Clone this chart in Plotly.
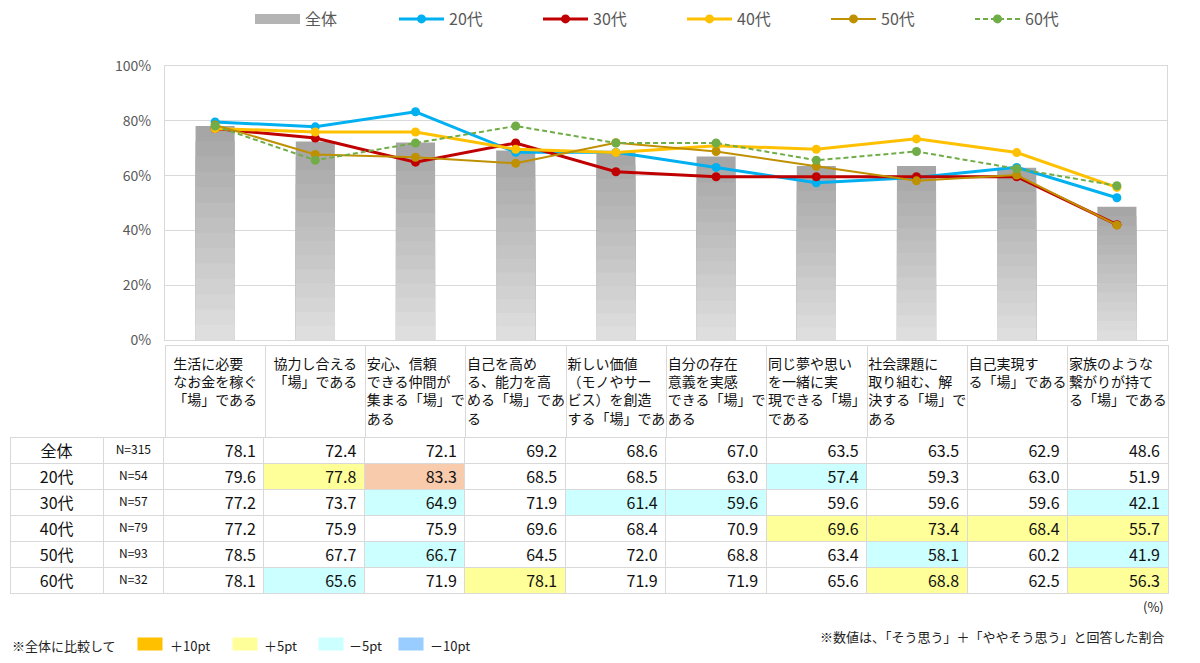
import plotly.graph_objects as go

# ---------------- data ----------------
categories = [
    "生活に必要<br>なお金を稼ぐ<br>「場」である",
    "協力し合える<br>「場」である",
    "安心、信頼<br>できる仲間が<br>集まる「場」で<br>ある",
    "自己を高め<br>る、能力を高<br>める「場」であ<br>る",
    "新しい価値<br>（モノやサー<br>ビス）を創造<br>する「場」であ",
    "自分の存在<br>意義を実感<br>できる「場」で<br>ある",
    "同じ夢や思い<br>を一緒に実<br>現できる「場」<br>である",
    "社会課題に<br>取り組む、解<br>決する「場」で<br>ある",
    "自己実現す<br>る「場」である",
    "家族のような<br>繋がりが持て<br>る「場」である",
]
overall = [78.1, 72.4, 72.1, 69.2, 68.6, 67.0, 63.5, 63.5, 62.9, 48.6]
age20 = [79.6, 77.8, 83.3, 68.5, 68.5, 63.0, 57.4, 59.3, 63.0, 51.9]
age30 = [77.2, 73.7, 64.9, 71.9, 61.4, 59.6, 59.6, 59.6, 59.6, 42.1]
age40 = [77.2, 75.9, 75.9, 69.6, 68.4, 70.9, 69.6, 73.4, 68.4, 55.7]
age50 = [78.5, 67.7, 66.7, 64.5, 72.0, 68.8, 63.4, 58.1, 60.2, 41.9]
age60 = [78.1, 65.6, 71.9, 78.1, 71.9, 71.9, 65.6, 68.8, 62.5, 56.3]

group_names = ["全体", "20代", "30代", "40代", "50代", "60代"]
group_n = ["N=315", "N=54", "N=57", "N=79", "N=93", "N=32"]
y_ticks = [0, 20, 40, 60, 80, 100]
y_tick_text = ["0%", "20%", "40%", "60%", "80%", "100%"]

line_series = [
    ("20代", age20, "#00B0F0", 3, "solid", 9),
    ("30代", age30, "#C00000", 3, "solid", 9),
    ("40代", age40, "#FFC000", 3, "solid", 9),
    ("50代", age50, "#BF9000", 2, "solid", 9),
    ("60代", age60, "#70AD47", 2, "5px,3px", 9),
]

FONT = "Noto Sans CJK JP"
W, H = 1200, 663


def px(x):
    return x / W


def py(y):
    return 1 - y / H


x_idx = list(range(len(overall)))
fig = go.Figure()

# gradient bars (layered, dark on top -> light at bottom)
n_layers = 14
dark = (166, 166, 166)
light = (222, 222, 222)
for k in range(n_layers):
    t = k / (n_layers - 1)
    c = tuple(round(dark[i] + (light[i] - dark[i]) * t) for i in range(3))
    frac = (n_layers - k) / n_layers
    fig.add_trace(go.Bar(
        x=x_idx, y=[v * frac for v in overall], width=0.39,
        marker=dict(color="rgb(%d,%d,%d)" % c, line=dict(width=0)),
        name="全体", showlegend=False, hoverinfo="skip",
    ))
# legend entry for the bar series
fig.add_trace(go.Scatter(x=[None], y=[None], mode="lines", name="全体",
                         line=dict(color="#B4B4B4", width=10)))

for name, vals, color, lw, dash, ms in line_series:
    fig.add_trace(go.Scatter(
        x=x_idx, y=vals, name=name, mode="lines+markers",
        line=dict(color=color, width=lw, dash=dash),
        marker=dict(color=color, size=ms, symbol="circle"),
    ))

# ---------------- table ----------------
rows = [overall, age20, age30, age40, age50, age60]


def cell_color(v, base):
    d = v - base
    if d >= 10:
        return "#F8CBAD"
    if d >= 5:
        return "#FFFF99"
    if d <= -10:
        return "#99CCFF"
    if d <= -5:
        return "#CCFFFF"
    return "white"


num_cols = []
fill_cols = []
for j in range(len(overall)):
    num_cols.append(["%.1f" % rows[i][j] for i in range(1, len(rows))])
    fill_cols.append([cell_color(rows[i][j], overall[j]) for i in range(1, len(rows))])

col_w = [93, 60] + [100.2] * len(overall)

# header table (category labels)
fig.add_trace(go.Table(
    domain=dict(x=[px(165), px(1168)], y=[py(470), py(345)]),
    columnwidth=[100.2] * len(overall),
    header=dict(values=categories, height=92, align="center",
                fill=dict(color="white"), line=dict(color="#D9D9D9", width=1),
                font=dict(family=FONT, size=14, color="#111111")),
    cells=dict(values=[[""] for _ in categories], height=20,
               fill=dict(color="white"), line=dict(color="white", width=1)),
))

# data table (全体 row used as table header)
header_vals = [group_names[0], group_n[0]] + ["%.1f" % v for v in overall]
fig.add_trace(go.Table(
    domain=dict(x=[px(10), px(1168)], y=[0, py(437)]),
    columnwidth=col_w,
    header=dict(values=header_vals, height=26,
                align=["center", "center"] + ["right"] * len(overall),
                fill=dict(color="white"), line=dict(color="#D9D9D9", width=1),
                font=dict(family=FONT, size=[16, 12] + [16] * len(overall), color="#111111")),
    cells=dict(values=[group_names[1:], group_n[1:]] + num_cols, height=26,
               align=["center", "center"] + ["right"] * len(overall),
               fill=dict(color=[["white"] * 5, ["white"] * 5] + fill_cols),
               line=dict(color="#D9D9D9", width=1),
               font=dict(family=FONT, size=[16, 12] + [16] * len(overall), color="#111111")),
))

# ---------------- annotations ----------------
ann = []
ann.append(dict(text="(%)", x=px(1166), y=py(606), xref="paper", yref="paper",
                xanchor="right", yanchor="middle", showarrow=False,
                font=dict(family=FONT, size=13, color="#222222")))
ann.append(dict(text="※数値は、「そう思う」＋「ややそう思う」と回答した割合", x=px(1167), y=py(636),
                xref="paper", yref="paper", xanchor="right", yanchor="middle", showarrow=False,
                font=dict(family=FONT, size=13, color="#222222")))
ann.append(dict(text="※全体に比較して", x=px(10), y=py(645), xref="paper", yref="paper",
                xanchor="left", yanchor="middle", showarrow=False,
                font=dict(family=FONT, size=13, color="#222222")))
legend2 = [("#FFC000", "＋10pt", 137, 168), ("#FFFF99", "＋5pt", 232, 262),
           ("#CCFFFF", "－5pt", 318, 347), ("#99CCFF", "－10pt", 398, 428)]
for col, lab, sx, tx in legend2:
    ann.append(dict(text=" ", x=px(sx), y=py(644), xref="paper", yref="paper",
                    xanchor="left", yanchor="middle", showarrow=False, width=24, height=12,
                    bgcolor=col, borderpad=0))
    ann.append(dict(text=lab, x=px(tx), y=py(645), xref="paper", yref="paper",
                    xanchor="left", yanchor="middle", showarrow=False,
                    font=dict(family=FONT, size=13, color="#222222")))

fig.update_layout(
    width=W, height=H,
    margin=dict(l=0, r=0, t=0, b=0),
    paper_bgcolor="white", plot_bgcolor="white",
    barmode="overlay",
    font=dict(family=FONT, color="#595959"),
    xaxis=dict(domain=[px(165), px(1167)], range=[-0.5, len(overall) - 0.5],
               showticklabels=False, showgrid=False, zeroline=False, automargin=False,
               showline=True, mirror=True, linecolor="#D9D9D9", linewidth=1, ticks=""),
    yaxis=dict(domain=[py(340), py(66)], range=[0, 100], tickvals=y_ticks,
               ticktext=y_tick_text, automargin=False,
               showgrid=True, gridcolor="#D9D9D9", gridwidth=1,
               zeroline=False, showline=True, mirror=True, linecolor="#D9D9D9",
               tickfont=dict(family=FONT, size=14, color="#595959"),
               ticks="outside", ticklen=10, tickcolor="rgba(0,0,0,0)"),
    legend=dict(orientation="h", x=px(250), y=py(2), xanchor="left", yanchor="top",
                font=dict(family=FONT, size=16, color="#595959"),
                entrywidth=84, entrywidthmode="pixels", itemwidth=45,
                traceorder="normal", bgcolor="rgba(0,0,0,0)"),
    annotations=ann,
    showlegend=True,
)

fig.write_html("out.html", config={"displayModeBar": False},
               post_script="document.body.style.margin='0';")
